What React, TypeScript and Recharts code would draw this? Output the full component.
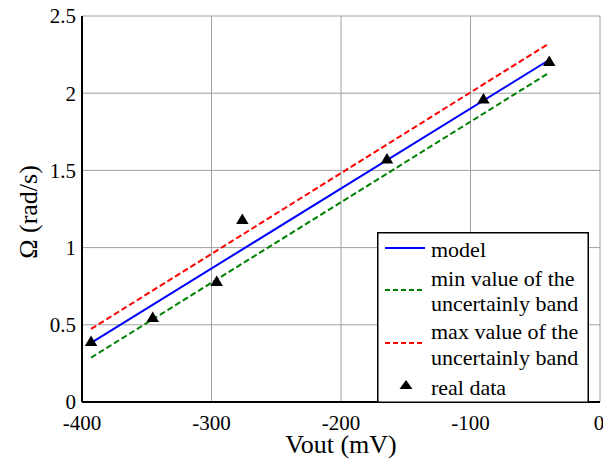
import React from 'react';
import { ComposedChart, Line, Scatter, XAxis, YAxis, CartesianGrid, Label } from 'recharts';

const xTicks = [-400, -300, -200, -100, 0];
const yTicks = [0, 0.5, 1, 1.5, 2, 2.5];

const modelVout = [-393, -38.4];
const modelOmega = [0.383, 2.22];
const bandVout = [-393, -39.2];
const minOmega = [0.287, 2.133];
const maxOmega = [0.473, 2.323];

const realVout = [-393, -345.4, -296, -276.2, -164.5, -90, -39.2];
const realOmega = [0.397, 0.552, 0.786, 1.187, 1.578, 1.967, 2.21];

const legendLabels = ['model', 'min value of the', 'uncertainly band', 'max value of the', 'uncertainly band', 'real data'];

const modelData = modelVout.map((x, i) => ({ x, y: modelOmega[i] }));
const minData = bandVout.map((x, i) => ({ x, y: minOmega[i] }));
const maxData = bandVout.map((x, i) => ({ x, y: maxOmega[i] }));
const realData = realVout.map((x, i) => ({ x, y: realOmega[i] }));

const FONT = "'Liberation Serif', 'Times New Roman', serif";

const Triangle = (props: any) => {
  const { cx, cy } = props;
  if (cx == null || cy == null) return <g />;
  const w = 12.5;
  const h = 10.5;
  return <path d={`M${cx},${cy - h / 2}L${cx + w / 2},${cy + h / 2}L${cx - w / 2},${cy + h / 2}Z`} fill="#000" />;
};

const LegendBox = () => (
  <svg width={212} height={171} style={{ display: 'block' }} fontFamily={FONT}>
    <rect x={0.75} y={0.75} width={210.5} height={169.5} fill="#fff" stroke="#000" strokeWidth={1.5} />
    <line x1={8} x2={48} y1={16} y2={16} stroke="#0000ff" strokeWidth={2} />
    <line x1={8} x2={48} y1={58} y2={58} stroke="#008000" strokeWidth={2} strokeDasharray="5 3" />
    <line x1={8} x2={48} y1={111} y2={111} stroke="#ff0000" strokeWidth={2} strokeDasharray="5 3" />
    <path d="M29,148 L35.5,157 L22.5,157 Z" fill="#000" />
    {[25, 54, 79, 107, 133, 163].map((y, i) => (
      <text key={i} x={54} y={y} fontSize={22} fill="#000" fontFamily={FONT}>{legendLabels[i]}</text>
    ))}
  </svg>
);

const SerifTick = (props: any) => {
  const { x, y, payload, textAnchor, verticalAnchor } = props;
  const dy = verticalAnchor === 'start' ? '0.71em' : '0.355em';
  return (
    <text x={x} y={y} dy={dy} textAnchor={textAnchor} fontSize={21} fontFamily={FONT} fill="#000">
      {payload.value}
    </text>
  );
};

export default function App() {
  return (
    <div style={{ position: 'absolute', left: 0, top: 0, width: 603, height: 462, background: '#fff', fontFamily: FONT }}>
      <ComposedChart width={603} height={462} margin={{ top: 16, right: 3, bottom: 0, left: 0 }}>
        <CartesianGrid stroke="#a0a0a0" strokeWidth={1} />
        <XAxis
          xAxisId={0}
          type="number"
          dataKey="x"
          domain={[-400, 0]}
          ticks={xTicks}
          height={60}
          tickLine={false}
          tickSize={6}
          tickMargin={7}
          tick={<SerifTick />}
          axisLine={{ stroke: '#000', strokeWidth: 2 }}
          allowDataOverflow
        >
          <Label
            content={(p: any) => {
              const vb = p.viewBox;
              return (
                <text x={vb.x + vb.width / 2} y={vb.y + 51} textAnchor="middle" fontSize={26} fontFamily={FONT} fill="#000">
                  Vout (mV)
                </text>
              );
            }}
          />
        </XAxis>
        <XAxis
          xAxisId="top"
          orientation="top"
          type="number"
          domain={[-400, 0]}
          ticks={xTicks}
          height={0}
          mirror
          tickSize={5}
          tickLine={{ stroke: '#000' }}
          tick={() => <g />}
          axisLine={{ stroke: '#000', strokeWidth: 2 }}
        />
        <YAxis
          yAxisId={0}
          type="number"
          domain={[0, 2.5]}
          ticks={yTicks}
          width={82}
          tickLine={false}
          tickSize={4}
          tickMargin={2}
          tick={<SerifTick />}
          axisLine={{ stroke: '#000', strokeWidth: 2 }}
          allowDataOverflow
        >
          <Label
            content={(p: any) => {
              const vb = p.viewBox;
              const cx = vb.x + 28;
              const cy = vb.y + vb.height / 2 + 3;
              return (
                <text x={cx} y={cy} transform={`rotate(-90, ${cx}, ${cy})`} textAnchor="middle" dominantBaseline="central" fontSize={26} fontFamily={FONT} fill="#000">
                  Ω (rad/s)
                </text>
              );
            }}
          />
        </YAxis>
        <YAxis
          yAxisId="right"
          orientation="right"
          type="number"
          domain={[0, 2.5]}
          ticks={yTicks}
          width={0}
          mirror
          tickSize={5}
          tickLine={{ stroke: '#000' }}
          tick={() => <g />}
          axisLine={{ stroke: '#000', strokeWidth: 2 }}
        />
        <Line data={modelData} dataKey="y" stroke="#0000ff" strokeWidth={2} dot={false} activeDot={false} isAnimationActive={false} />
        <Line data={minData} dataKey="y" stroke="#008000" strokeWidth={2} strokeDasharray="6 3" dot={false} activeDot={false} isAnimationActive={false} />
        <Line data={maxData} dataKey="y" stroke="#ff0000" strokeWidth={2} strokeDasharray="6 3" dot={false} activeDot={false} isAnimationActive={false} />
        <Scatter data={realData} dataKey="y" shape={Triangle} isAnimationActive={false} />
      </ComposedChart>
      <div style={{ position: 'absolute', left: 377, top: 232 }}>
        <LegendBox />
      </div>
    </div>
  );
}
